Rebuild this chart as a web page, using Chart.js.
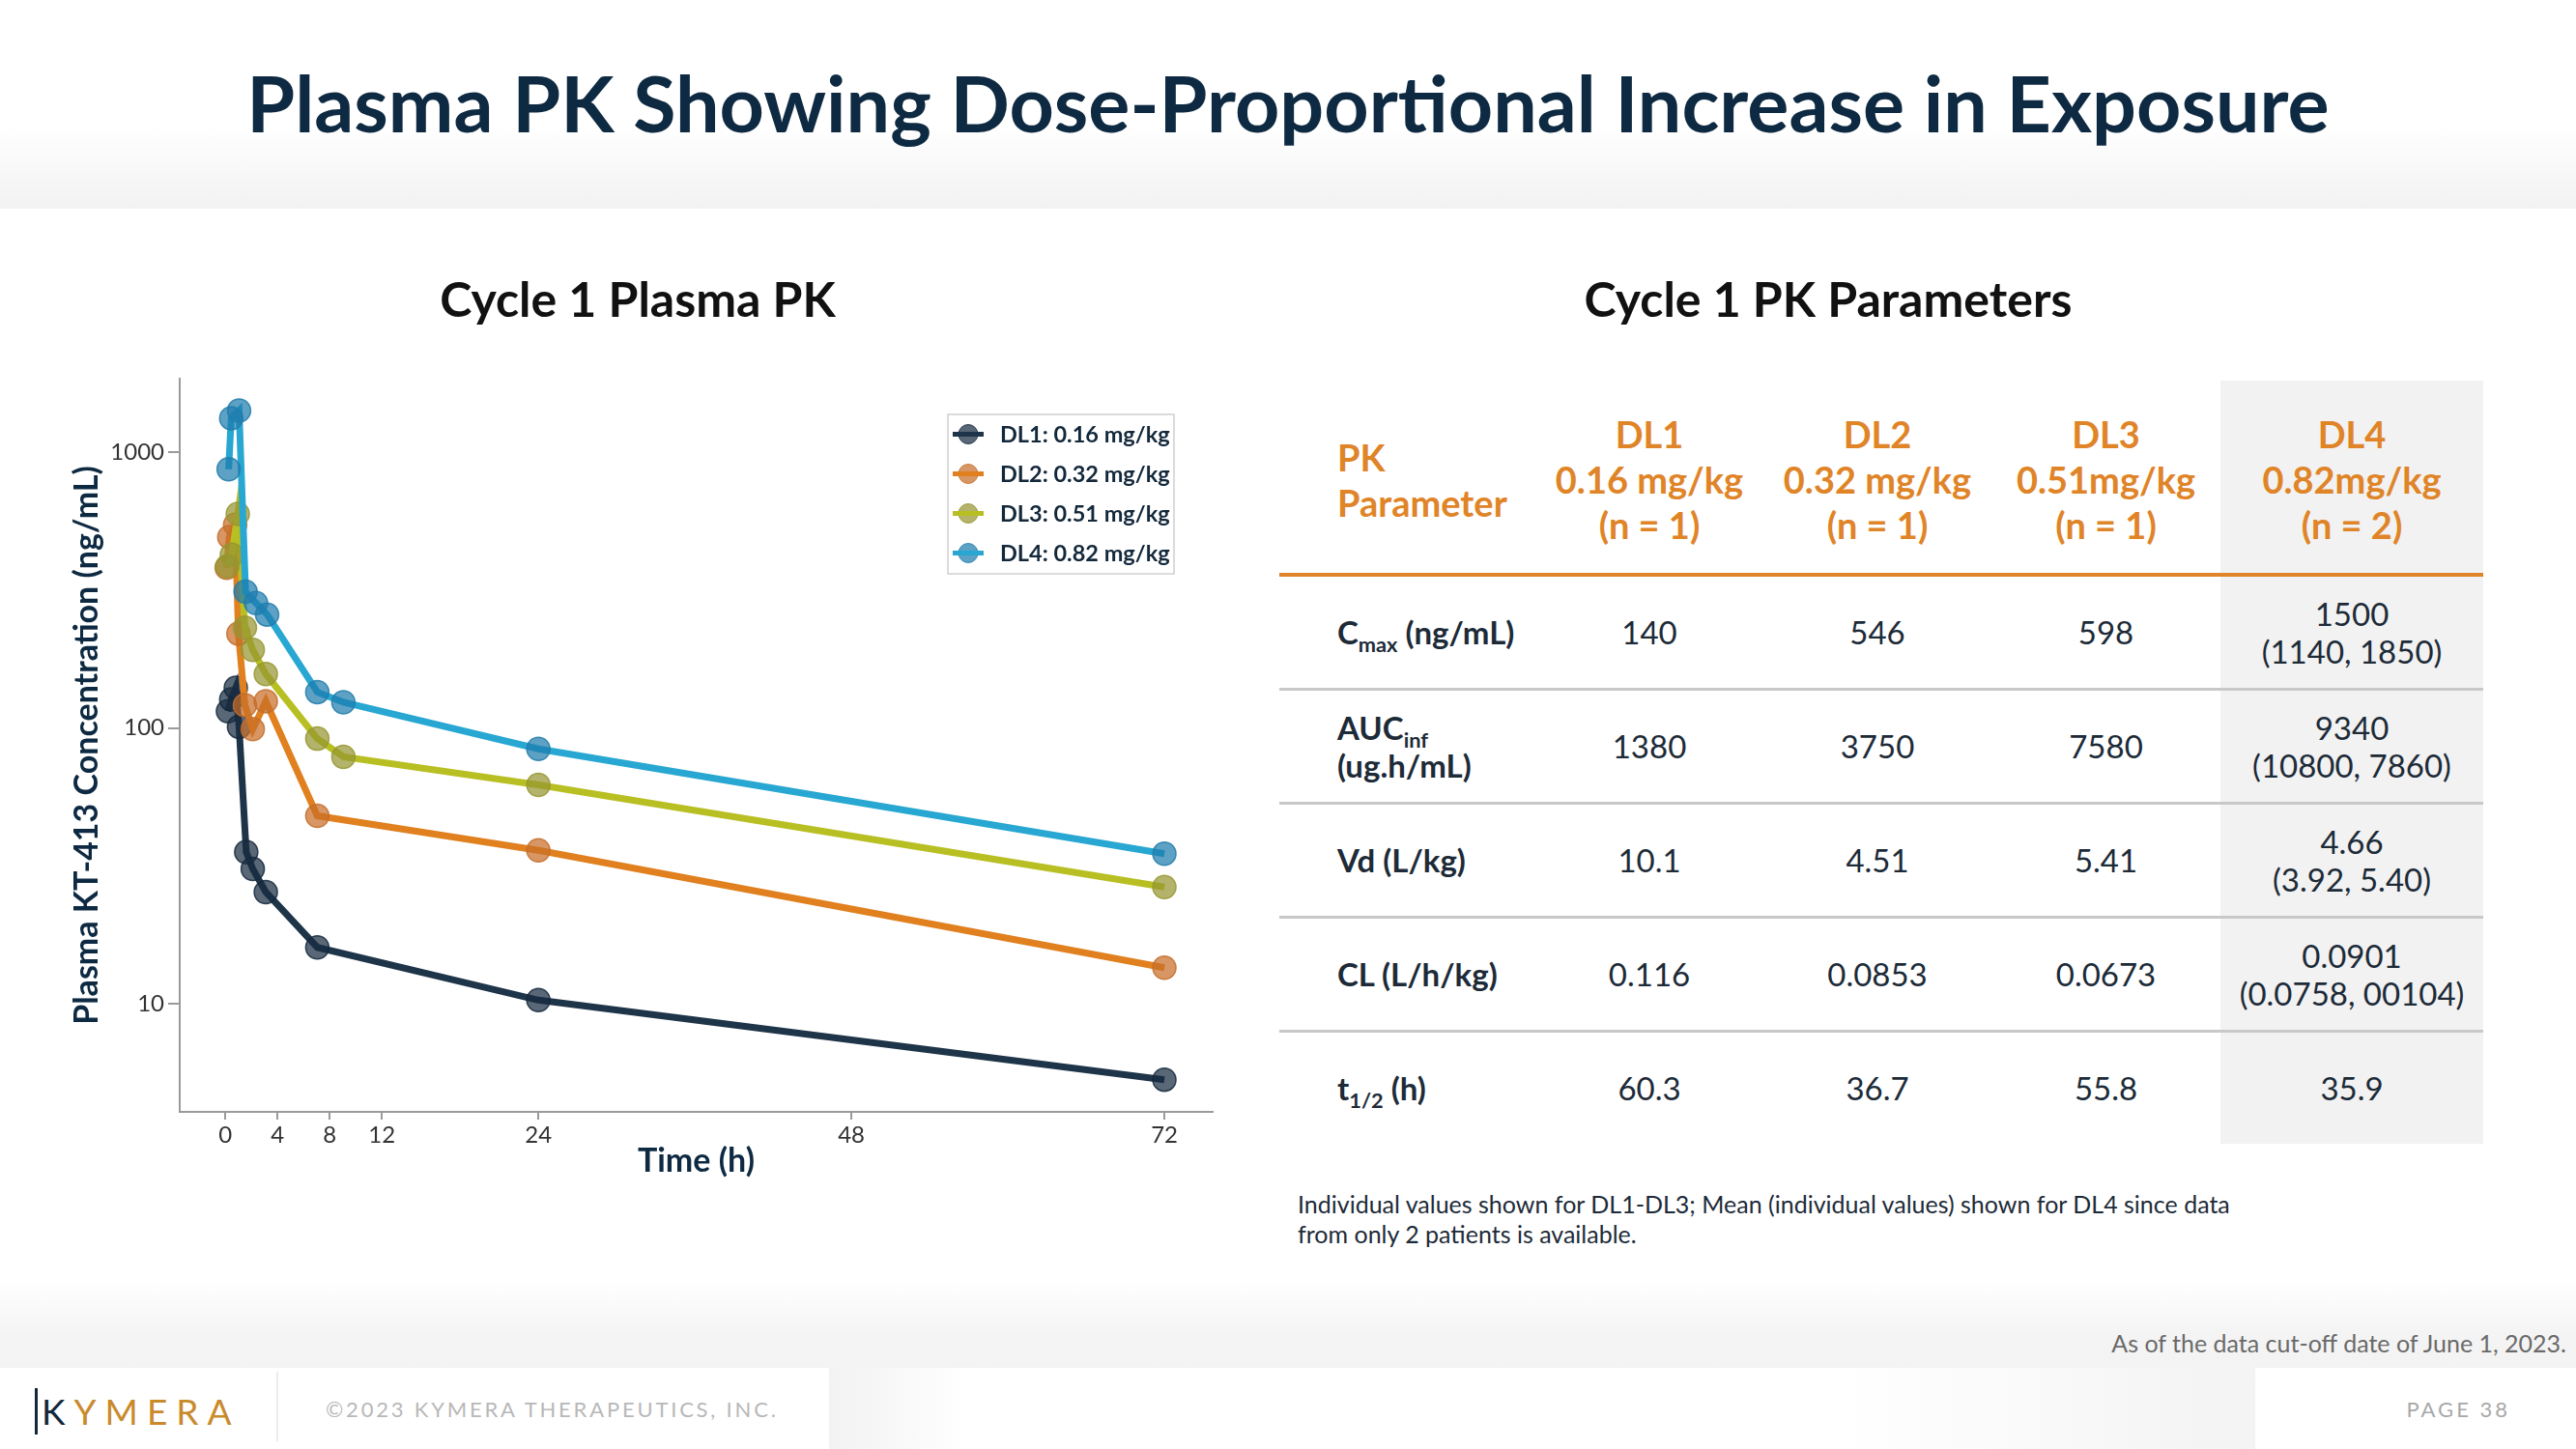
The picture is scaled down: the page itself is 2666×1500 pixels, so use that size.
<!DOCTYPE html>
<html>
<head>
<meta charset="utf-8">
<script src="https://cdn.jsdelivr.net/npm/chart.js@4.4.0/dist/chart.umd.min.js"></script>
<style>
  html, body { margin: 0; padding: 0; }
  body { width: 2666px; height: 1500px; position: relative; overflow: hidden; background: #fff;
         font-family: Lato, 'Open Sans', sans-serif; color: #1d2b38; }
  .abs { position: absolute; }
  #head { left: 0; top: 0; width: 2666px; height: 216px;
          background: linear-gradient(to bottom, #fff 0%, #fff 60%, #f2f2f2 100%); }
  #title { left: 0; top: 57px; width: 2666px; text-align: center; font-weight: 700; font-size: 80.8px;
           line-height: 97px; color: #0e2a42; white-space: nowrap; }
  .sub { top: 279px; width: 800px; text-align: center; font-weight: 700; font-size: 50px; line-height: 60px; color: #111; }
  #chartBox { left: 0; top: 370px; width: 1270px; height: 860px; }
  #pk { position: absolute; left: 1324px; top: 394px; width: 1246px; border-collapse: collapse; table-layout: fixed; }
  #pk th { height: 193px; padding: 6px 0 0 0; border-bottom: 4px solid #e08428; color: #e08428; font-weight: 700;
           font-size: 38px; line-height: 47px; text-align: center; vertical-align: middle; }
  #pk th.lab { text-align: left; padding-left: 60px; }
  #pk td { height: 115px; padding: 0; border-top: 3px solid #c8c8c8; font-size: 33px; line-height: 39px;
           text-align: center; vertical-align: middle; color: #1d2b38; }
  #pk td.lab { text-align: left; padding-left: 60px; font-weight: 700; }
  #pk .hi { background: #f2f2f2; }
  #pk sub { font-size: 0.66em; vertical-align: -0.35em; line-height: 0; }
  #note { left: 1343px; top: 1231px; font-size: 25px; line-height: 31px; color: #1d2b38; width: 1100px; }
  #foot { left: 0; top: 1326px; width: 2666px; height: 90px;
          background: linear-gradient(to bottom, #fff 0%, #f4f4f4 60%, #f3f3f3 100%); }
  #cutoff { right: 10px; top: 1375px; font-size: 25px; line-height: 30px; color: #6a6a6a; }
  #bar { left: 0; top: 1416px; width: 2666px; height: 84px; background: #fff; }
  #patch1 { left: 858px; top: 1416px; width: 145px; height: 84px; background: linear-gradient(to right, #f2f2f2, #fff); }
  #patch2 { left: 1904px; top: 1416px; width: 430px; height: 84px; background: linear-gradient(to right, #fff, #f3f3f3); }
  #logo { left: 36px; top: 1437px; height: 48px; font-size: 37px; line-height: 48px; letter-spacing: 9px;
          border-left: 3px solid #13283b; padding-left: 4px; font-weight: 400; }
  #logo .k { color: #13283b; }
  #logo .o { color: #c98a2c; }
  #sep { left: 286px; top: 1420px; width: 2px; height: 72px; background: #ececec; }
  #copy { left: 337px; top: 1445px; font-size: 22px; line-height: 27px; letter-spacing: 2.8px; color: #b8b8b8; }
  #page { right: 68px; top: 1445px; font-size: 22px; line-height: 27px; letter-spacing: 3px; color: #a8a8a8; }
</style>
</head>
<body>
<div id="head" class="abs"></div>
<div id="title" class="abs">Plasma PK Showing Dose-Proportional Increase in Exposure</div>
<div class="abs sub" style="left:260px">Cycle 1 Plasma PK</div>
<div class="abs sub" style="left:1492px">Cycle 1 PK Parameters</div>

<div id="chartBox" class="abs"><canvas id="pkChart" width="1270" height="860"></canvas></div>

<table id="pk"></table>
<div id="note" class="abs">Individual values shown for DL1-DL3; Mean (individual values) shown for DL4 since data<br>from only 2 patients is available.</div>

<div id="foot" class="abs"></div>
<div id="cutoff" class="abs">As of the data cut-off date of June 1, 2023.</div>
<div id="bar" class="abs"></div>
<div id="patch1" class="abs"></div>
<div id="patch2" class="abs"></div>
<div id="logo" class="abs"><span class="k">K</span><span class="o">YMERA</span></div>
<div id="sep" class="abs"></div>
<div id="copy" class="abs">©2023 KYMERA THERAPEUTICS, INC.</div>
<div id="page" class="abs">PAGE 38</div>

<script>
// --- chart data ---
const seriesLabels = ['DL1: 0.16 mg/kg', 'DL2: 0.32 mg/kg', 'DL3: 0.51 mg/kg', 'DL4: 0.82 mg/kg'];

const dl1Time = [0.2, 0.45, 0.8, 1.05, 1.6, 2.1, 3.1, 7.05, 24, 72];
const dl1Conc = [115, 127, 140, 101, 35.5, 30.8, 25.4, 16.0, 10.3, 5.3];

const dl2Time = [0.1, 0.3, 0.75, 1.0, 1.5, 2.1, 3.1, 7.05, 24, 72];
const dl2Conc = [381, 493, 546, 220, 121, 99, 125, 48, 36, 13.5];

const dl3Time = [0.15, 0.5, 0.95, 1.5, 2.1, 3.1, 7.05, 9.05, 24, 72];
const dl3Conc = [386, 425, 598, 231, 192, 157, 91.5, 78.6, 62.2, 26.5];

const dl4Time = [0.25, 0.45, 1.05, 1.55, 2.35, 3.2, 7.05, 9.05, 24, 72];
const dl4Conc = [868, 1330, 1418, 312, 284, 258, 135, 124, 84, 35];

const xTicks = [0, 4, 8, 12, 24, 48, 72];
const yTicks = [10, 100, 1000];

// --- table data ---
const doseLevels  = ['DL1', 'DL2', 'DL3', 'DL4'];
const doseAmounts = ['0.16 mg/kg', '0.32 mg/kg', '0.51mg/kg', '0.82mg/kg'];
const doseN       = ['(n = 1)', '(n = 1)', '(n = 1)', '(n = 2)'];
const paramLabels = ['C<sub>max</sub> (ng/mL)', 'AUC<sub>inf</sub><br>(ug.h/mL)', 'Vd (L/kg)', 'CL (L/h/kg)', 't<sub>1/2</sub> (h)'];
const dl1Values   = ['140', '1380', '10.1', '0.116', '60.3'];
const dl2Values   = ['546', '3750', '4.51', '0.0853', '36.7'];
const dl3Values   = ['598', '7580', '5.41', '0.0673', '55.8'];
const dl4Means    = ['1500', '9340', '4.66', '0.0901', '35.9'];
const dl4Ranges   = ['(1140, 1850)', '(10800, 7860)', '(3.92, 5.40)', '(0.0758, 00104)', ''];

// build table
const tbl = document.getElementById('pk');
let html = '<colgroup><col style="width:265px"><col style="width:236px"><col style="width:236px"><col style="width:237px"><col style="width:272px"></colgroup>';
html += '<thead><tr><th class="lab">PK<br>Parameter</th>';
doseLevels.forEach((d, i) => {
  html += '<th' + (i === 3 ? ' class="hi"' : '') + '>' + d + '<br>' + doseAmounts[i] + '<br>' + doseN[i] + '</th>';
});
html += '</tr></thead><tbody>';
paramLabels.forEach((p, r) => {
  html += '<tr><td class="lab">' + p + '</td><td>' + dl1Values[r] + '</td><td>' + dl2Values[r] + '</td><td>' + dl3Values[r] + '</td>';
  html += '<td class="hi">' + dl4Means[r] + (dl4Ranges[r] ? '<br>' + dl4Ranges[r] : '') + '</td></tr>';
});
html += '</tbody>';
tbl.innerHTML = html;

// --- chart ---
const toXY = (xs, ys) => xs.map((x, i) => ({ x: x, y: ys[i] }));
const lineColors  = ['#1e3448', '#e0801f', '#b8bf22', '#27a7d1'];
const pointColors = ['rgba(25,45,65,0.72)', 'rgba(200,110,40,0.72)', 'rgba(150,150,50,0.72)', 'rgba(30,125,175,0.72)'];
const pointEdges  = ['rgba(20,40,60,0.85)', 'rgba(195,110,45,0.85)', 'rgba(150,150,50,0.85)', 'rgba(35,125,170,0.85)'];
const allData = [toXY(dl1Time, dl1Conc), toXY(dl2Time, dl2Conc), toXY(dl3Time, dl3Conc), toXY(dl4Time, dl4Conc)];

const legendBox = {
  id: 'legendBox',
  afterDraw(chart) {
    const ctx = chart.ctx;
    ctx.save();
    ctx.strokeStyle = '#cfcfcf';
    ctx.lineWidth = 1.5;
    ctx.fillStyle = '#fff';
    ctx.fillRect(981, 59, 234, 165);
    ctx.strokeRect(981, 59, 234, 165);
    chart.data.datasets.forEach((ds, i) => {
      const y = 79.5 + i * 41;
      ctx.beginPath();
      ctx.arc(1002, y, 10, 0, Math.PI * 2);
      ctx.fillStyle = ds.pointBackgroundColor;
      ctx.fill();
      ctx.strokeStyle = ds.pointBorderColor;
      ctx.lineWidth = 1;
      ctx.stroke();
      ctx.beginPath();
      ctx.moveTo(986, y);
      ctx.lineTo(1018, y);
      ctx.strokeStyle = ds.borderColor;
      ctx.lineWidth = 5;
      ctx.stroke();
      ctx.fillStyle = '#13283b';
      ctx.font = 'bold 23.5px Lato';
      ctx.textBaseline = 'middle';
      ctx.fillText(ds.label, 1035, y + 1);
    });
    ctx.restore();
  }
};

new Chart(document.getElementById('pkChart'), {
  type: 'line',
  data: {
    datasets: seriesLabels.map((lab, i) => ({
      label: lab,
      data: allData[i],
      borderColor: lineColors[i],
      borderWidth: 7,
      pointRadius: 12,
      pointBackgroundColor: pointColors[i],
      pointBorderColor: pointEdges[i],
      pointBorderWidth: 1.5,
      tension: 0,
      order: 3 - i
    }))
  },
  options: {
    responsive: false,
    animation: false,
    devicePixelRatio: 1,
    layout: { padding: { top: 22, right: 15, left: 0, bottom: 0 } },
    plugins: { legend: { display: false }, tooltip: { enabled: false } },
    scales: {
      x: {
        type: 'linear', min: -3.5, max: 75.7,
        afterBuildTicks: s => { s.ticks = xTicks.map(v => ({ value: v })); },
        afterFit: s => { s.height = 79; },
        grid: { drawOnChartArea: false, drawTicks: true, tickLength: 8, color: '#9a9a9a', lineWidth: 2 },
        border: { display: true, color: '#9a9a9a', width: 2 },
        ticks: { padding: 2, color: '#333', font: { family: 'Lato', size: 24 }, maxRotation: 0, callback: v => String(v) },
        title: { display: true, text: 'Time (h)', color: '#0e2a42', font: { family: 'Lato', size: 34, weight: 'bold' }, padding: { top: 0, bottom: 8 } }
      },
      y: {
        type: 'logarithmic', min: 4.05, max: 1850,
        afterBuildTicks: s => { s.ticks = yTicks.map(v => ({ value: v })); },
        afterFit: s => { s.width = 186; },
        grid: { drawOnChartArea: false, drawTicks: true, tickLength: 12, color: '#9a9a9a', lineWidth: 2 },
        border: { display: true, color: '#9a9a9a', width: 2 },
        ticks: { padding: 4, color: '#333', font: { family: 'Lato', size: 24 }, callback: v => String(v) },
        title: { display: true, text: 'Plasma KT-413 Concentration (ng/mL)', color: '#0e2a42', font: { family: 'Lato', size: 34, weight: 'bold' }, padding: { top: 70, bottom: 0 } }
      }
    }
  },
  plugins: [legendBox]
});
</script>
</body>
</html>
